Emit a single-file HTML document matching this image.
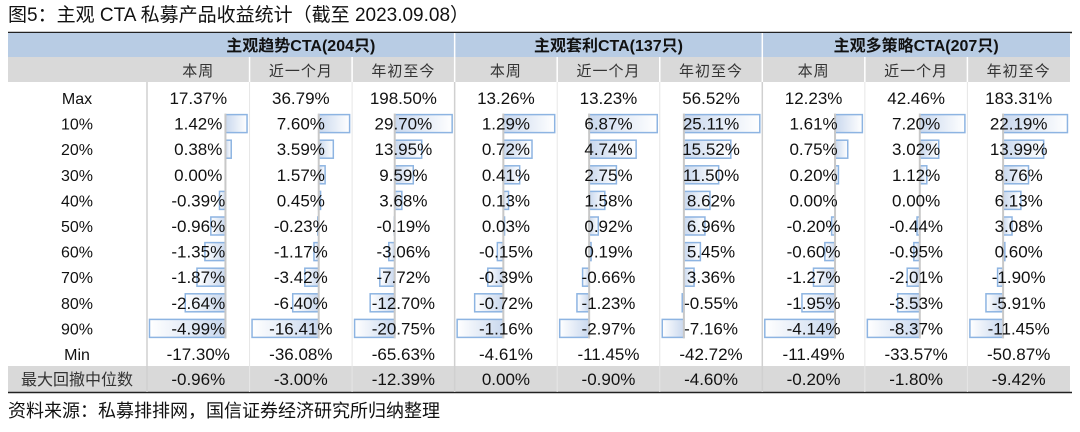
<!DOCTYPE html>
<html><head><meta charset="utf-8">
<style>
body{margin:0;background:#fff;width:1080px;height:427px;overflow:hidden;}
svg text{font-family:"Liberation Sans","Noto Sans CJK SC",sans-serif;}
</style></head>
<body>
<svg id="chart" width="1080" height="427" viewBox="0 0 1080 427" xmlns="http://www.w3.org/2000/svg">
<defs>
<linearGradient id="gpos" x1="0" x2="1" y1="0" y2="0"><stop offset="0" stop-color="#c9d8ee"/><stop offset="1" stop-color="#ffffff"/></linearGradient>
<linearGradient id="gneg" x1="1" x2="0" y1="0" y2="0"><stop offset="0" stop-color="#c9d8ee"/><stop offset="1" stop-color="#ffffff"/></linearGradient>
</defs>
<text x="8" y="21" font-size="19" fill="#111">图5：主观 CTA 私募产品收益统计（截至 2023.09.08）</text>
<line x1="8" y1="32.5" x2="1072" y2="32.5" stroke="#222" stroke-width="1.5"/>
<rect x="8" y="33" width="1062" height="24" fill="#b8cce4"/>
<rect x="8" y="57" width="1062" height="25" fill="#d9d9d9"/>
<rect x="8" y="366" width="1062" height="26" fill="#d9d9d9"/>
<line x1="8" y1="392.5" x2="1072" y2="392.5" stroke="#222" stroke-width="1.5"/>
<g id="body"></g>
<text x="8" y="417" font-size="18" fill="#111">资料来源：私募排排网，国信证券经济研究所归纳整理</text>
</svg>
<script>
const groups = ["主观趋势CTA(204只)","主观套利CTA(137只)","主观多策略CTA(207只)"];
const periods = ["本周","近一个月","年初至今"];
const rowLabels = ["Max","10%","20%","30%","40%","50%","60%","70%","80%","90%","Min"];
const col1 = [17.37,1.42,0.38,0.00,-0.39,-0.96,-1.35,-1.87,-2.64,-4.99,-17.30];
const col2 = [36.79,7.60,3.59,1.57,0.45,-0.23,-1.17,-3.42,-6.40,-16.41,-36.08];
const col3 = [198.50,29.70,13.95,9.59,3.68,-0.19,-3.06,-7.72,-12.70,-20.75,-65.63];
const col4 = [13.26,1.29,0.72,0.41,0.13,0.03,-0.15,-0.39,-0.72,-1.16,-4.61];
const col5 = [13.23,6.87,4.74,2.75,1.58,0.92,0.19,-0.66,-1.23,-2.97,-11.45];
const col6 = [56.52,25.11,15.52,11.50,8.62,6.96,5.45,3.36,-0.55,-7.16,-42.72];
const col7 = [12.23,1.61,0.75,0.20,0.00,-0.20,-0.60,-1.27,-1.95,-4.14,-11.49];
const col8 = [42.46,7.20,3.02,1.12,0.00,-0.44,-0.95,-2.01,-3.53,-8.37,-33.57];
const col9 = [183.31,22.19,13.99,8.76,6.13,3.08,0.60,-1.90,-5.91,-11.45,-50.87];
const drawdown = [-0.96,-3.00,-12.39,0.00,-0.90,-4.60,-0.20,-1.80,-9.42];
const cols = [col1,col2,col3,col4,col5,col6,col7,col8,col9];

const NS="http://www.w3.org/2000/svg";
const body=document.getElementById('body');
const X0=147, CW=102.55, Y0=98, RH=25.6;
function colX(i){return X0+i*CW;}
function rowY(r){return Y0+r*RH;}
function mk(tag,attrs){const e=document.createElementNS(NS,tag);for(const k in attrs)e.setAttribute(k,attrs[k]);body.appendChild(e);return e;}
function fmt(v){return v.toFixed(2)+'%';}

let ln=mk('line',{x1:X0,y1:82,x2:X0,y2:392,stroke:'#d0d0d0','stroke-width':1.5});


for(let i=1;i<9;i++){
  const l=mk('line',{x1:colX(i),y1:82,x2:colX(i),y2:392,stroke:(i%3==0)?'#d0d0d0':'#e6e6e6','stroke-width':(i%3==0)?1.5:1});
  
  
  const w=mk('line',{x1:colX(i),y1:(i%3==0)?33:57,x2:colX(i),y2:82,stroke:'#ffffff','stroke-width':1.5});
  
  
}
groups.forEach((g,gi)=>{
  const t=mk('text',{x:colX(gi*3)+CW*1.5,y:51,'font-size':16,'font-weight':'bold','text-anchor':'middle',fill:'#111'});
  t.textContent=g;
  
  
  periods.forEach((p,pi)=>{
    const s=mk('text',{x:colX(gi*3+pi)+CW/2,y:76,'font-size':15,'text-anchor':'middle',fill:'#333','font-family':'"Noto Serif CJK SC",serif','letter-spacing':'1'});
    s.textContent=p;
    
    
  });
});
rowLabels.forEach((lab,r)=>{
  const t=mk('text',{x:77,y:rowY(r)+6,'font-size':16,'text-anchor':'middle',fill:'#111'});
  t.textContent=lab;
  
  
});
const dl=mk('text',{x:77,y:385,'font-size':16,'text-anchor':'middle',fill:'#333','font-family':'"Noto Serif CJK SC",serif'});
dl.textContent='最大回撤中位数';



cols.forEach((vals,ci)=>{
  const bv=vals.slice(1,10);
  const mn=Math.min(0,...bv), mx=Math.max(0,...bv);
  const W=CW-5, left=colX(ci)+2.5;
  const sx=v=>left+(v-mn)/(mx-mn)*W;
  const ax=sx(0);
  bv.forEach((v,k)=>{
    if(v===0) return;
    const r=k+1, x1=Math.min(sx(v),ax), w=Math.abs(sx(v)-ax);
    const b=mk('rect',{x:x1,y:rowY(r)-9,width:w,height:18,fill:v>0?'url(#gpos)':'url(#gneg)',stroke:'#8db4e2','stroke-width':1.5});
    
    
  });
  const a=mk('line',{x1:ax,y1:rowY(1)-10,x2:ax,y2:rowY(9)+10,stroke:'#c8c8c8','stroke-width':2});
  
  
  vals.forEach((v,r)=>{
    const t=mk('text',{x:colX(ci)+CW/2,y:rowY(r)+6,'font-size':17,'text-anchor':'middle',fill:'#111'});
    t.textContent=fmt(v);
    
    
  });
  const d=mk('text',{x:colX(ci)+CW/2,y:385,'font-size':17,'text-anchor':'middle',fill:'#111'});
  d.textContent=fmt(drawdown[ci]);
  
  
});
</script>
</body></html>
